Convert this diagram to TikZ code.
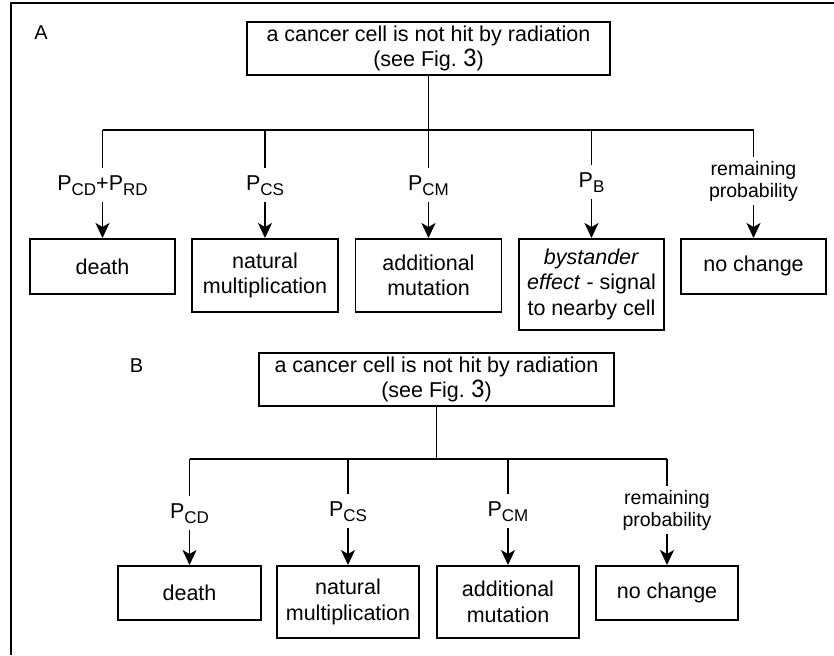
\documentclass[tikz,border=0pt]{standalone}
\usepackage{fontspec}
\setmainfont{Liberation Sans}
\newfontfamily\carl{Carlito}
\usetikzlibrary{arrows.meta}
\newcommand\mainf{\fontsize{21.5}{25.5}\selectfont}
\newcommand\remf{\fontsize{19.5}{22}\selectfont}
\newcommand\sbs[1]{\raisebox{-5.5pt}{\fontsize{17}{17}\selectfont #1}}
\newcommand\figthree{{\carl\fontsize{27}{27}\selectfont 3}}
\tikzset{
  lw/.style={line width=1.7pt},
  topbox/.style={draw, lw, align=center, font=\mainf, inner sep=2pt, minimum height=53pt},
  outbox/.style={draw, lw, align=center, font=\mainf, inner sep=2pt, anchor=north},
  plabel/.style={font=\mainf, text height=15pt, text depth=5pt, inner ysep=7pt, inner xsep=1pt, anchor=base},
  remlabel/.style={font=\remf, align=center, inner xsep=1pt},
  conn/.style={lw},
  arr/.style={lw, -{Stealth[length=15pt, width=14pt, inset=4pt]}},
  panel/.style={font=\fontsize{20}{20}\selectfont}
}
\begin{document}
\begin{tikzpicture}[x=1pt, y=-1pt]
\useasboundingbox (0,0) rectangle (834,655);
% frame
\coordinate (f1) at (11,655);
\coordinate (f2) at (11,3);
\coordinate (f3) at (834,3);
\draw[line width=2.2pt] (f1) -- (f2) -- (f3);

% ---------------- Panel A ----------------
\node[panel] (labA) at (41,32.5) {A};
\node[topbox, minimum width=363pt] (topA) at (428.5,48.5) {a cancer cell is not hit by radiation\\(see Fig.~\figthree)};
\coordinate (jA) at (428.5,130);
\coordinate (jA1) at (102.5,130);
\coordinate (jA2) at (265,130);
\coordinate (jA3) at (428.5,130);
\coordinate (jA4) at (591.5,130);
\coordinate (jA5) at (753.5,130);
\draw[conn] (topA.south) -- (jA);
\draw[conn] (jA1) -- (jA5);

\node[plabel] (pA1) at (102.5,190) {P\sbs{CD}+P\sbs{RD}};
\node[plabel] (pA2) at (265,190) {P\sbs{CS}};
\node[plabel] (pA3) at (428.5,190) {P\sbs{CM}};
\node[plabel] (pA4) at (591.5,187) {P\sbs{B}};
\node[remlabel, minimum height=48pt] (pA5) at (753.5,181) {remaining\\probability};

\node[outbox, minimum width=145pt, minimum height=55pt] (bA1) at (102.5,238) {death};
\node[outbox, minimum width=146pt, minimum height=73pt] (bA2) at (265,238) {natural\\multiplication};
\node[outbox, minimum width=146pt, minimum height=73pt] (bA3) at (428.5,238) {additional\\mutation};
\node[outbox, minimum width=145pt, minimum height=91pt] (bA4) at (591.5,238) {\textit{bystander}\\\textit{effect} - signal\\to nearby cell};
\node[outbox, minimum width=145pt, minimum height=55pt] (bA5) at (753.5,238) {no change};

\foreach \i in {1,...,5} {
  \draw[conn] (jA\i) -- (pA\i.north);
  \draw[arr] (pA\i.south) -- (bA\i.north);
}

% ---------------- Panel B ----------------
\node[panel] (labB) at (136.5,366) {B};
\node[topbox, minimum width=355pt] (topB) at (436.5,379.5) {a cancer cell is not hit by radiation\\(see Fig.~\figthree)};
\coordinate (jB) at (436.5,459);
\coordinate (jB1) at (189.5,459);
\coordinate (jB2) at (348,459);
\coordinate (jB3) at (508,459);
\coordinate (jB4) at (667,459);
\draw[conn] (topB.south) -- (jB);
\draw[conn] (jB1) -- (jB4);

\node[plabel] (pB1) at (189.5,518) {P\sbs{CD}};
\node[plabel] (pB2) at (348,516) {P\sbs{CS}};
\node[plabel] (pB3) at (508,516) {P\sbs{CM}};
\node[remlabel, minimum height=46pt] (pB4) at (667,510) {remaining\\probability};

\node[outbox, minimum width=143pt, minimum height=54pt] (bB1) at (189.5,565) {death};
\node[outbox, minimum width=142pt, minimum height=72pt] (bB2) at (348,565) {natural\\multiplication};
\node[outbox, minimum width=142pt, minimum height=72pt] (bB3) at (508,565) {additional\\mutation};
\node[outbox, minimum width=142pt, minimum height=54pt] (bB4) at (667,565) {no change};

\foreach \i in {1,...,4} {
  \draw[conn] (jB\i) -- (pB\i.north);
  \draw[arr] (pB\i.south) -- (bB\i.north);
}
\end{tikzpicture}
\end{document}
